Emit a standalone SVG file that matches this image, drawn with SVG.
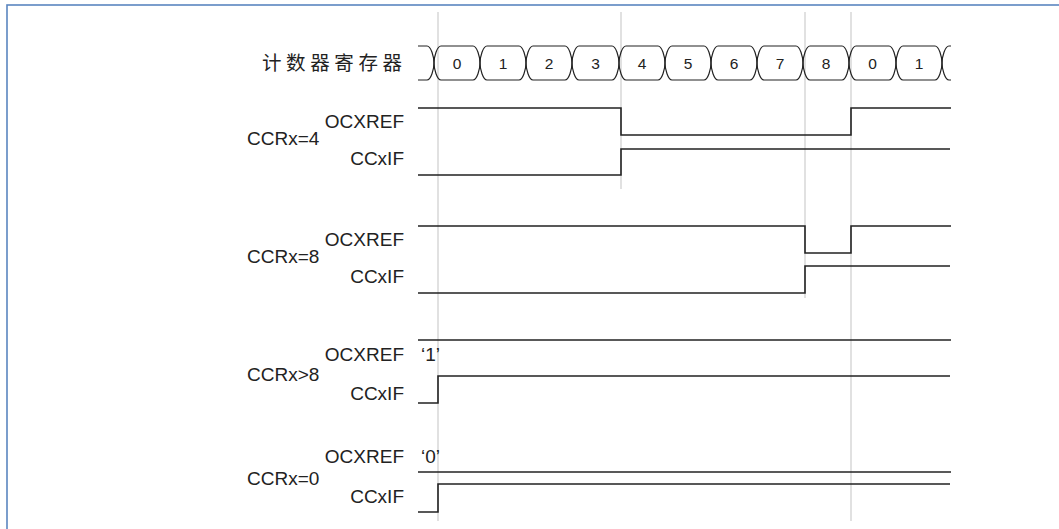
<svg xmlns="http://www.w3.org/2000/svg" width="1059" height="529" viewBox="0 0 1059 529">
<style>
.frame{fill:none;stroke:#5b86c0;stroke-width:1.6}
.grid{stroke:#d4d4d4;stroke-width:1.4;fill:none}
.sig{fill:none;stroke:#222;stroke-width:1.6}
.bus{fill:none;stroke:#222;stroke-width:1.2}
.lbl{font-family:"Liberation Sans",Arial,sans-serif;font-size:19px;fill:#222}
.num{font-family:"Liberation Sans",Arial,sans-serif;font-size:15.5px;fill:#222;text-anchor:middle}
.end{text-anchor:end}
.cjk{font-family:"Liberation Sans","Noto Sans CJK SC",sans-serif;font-size:19.5px;letter-spacing:4.6px;fill:#222}
</style>
<rect class="frame" x="7" y="5" width="1100" height="600"/>
<g id="grid">
<line class="grid" x1="438" y1="12" x2="438" y2="521"/>
<line class="grid" x1="621" y1="12" x2="621" y2="189"/>
<line class="grid" x1="805" y1="12" x2="805" y2="298"/>
<line class="grid" x1="851" y1="12" x2="851" y2="521"/>
</g>
<g id="counter">
<text class="cjk" x="262" y="70">计数器寄存器</text>
<path class="bus" d="M418,46 L427,46 C431,46 434,57 434,63 C434,69 431,80 427,80 L418,80"/>
<path class="bus" d="M434,63 C434,57 437,46 441,46 L473,46 C477,46 480,57 480,63 C480,69 477,80 473,80 L441,80 C437,80 434,69 434,63Z"/>
<path class="bus" d="M480,63 C480,57 483,46 487,46 L519,46 C523,46 526,57 526,63 C526,69 523,80 519,80 L487,80 C483,80 480,69 480,63Z"/>
<path class="bus" d="M526,63 C526,57 529,46 533,46 L565,46 C569,46 572,57 572,63 C572,69 569,80 565,80 L533,80 C529,80 526,69 526,63Z"/>
<path class="bus" d="M572,63 C572,57 575,46 579,46 L612,46 C616,46 619,57 619,63 C619,69 616,80 612,80 L579,80 C575,80 572,69 572,63Z"/>
<path class="bus" d="M619,63 C619,57 622,46 626,46 L658,46 C662,46 665,57 665,63 C665,69 662,80 658,80 L626,80 C622,80 619,69 619,63Z"/>
<path class="bus" d="M665,63 C665,57 668,46 672,46 L704,46 C708,46 711,57 711,63 C711,69 708,80 704,80 L672,80 C668,80 665,69 665,63Z"/>
<path class="bus" d="M711,63 C711,57 714,46 718,46 L750,46 C754,46 757,57 757,63 C757,69 754,80 750,80 L718,80 C714,80 711,69 711,63Z"/>
<path class="bus" d="M757,63 C757,57 760,46 764,46 L796,46 C800,46 803,57 803,63 C803,69 800,80 796,80 L764,80 C760,80 757,69 757,63Z"/>
<path class="bus" d="M803,63 C803,57 806,46 810,46 L842,46 C846,46 849,57 849,63 C849,69 846,80 842,80 L810,80 C806,80 803,69 803,63Z"/>
<path class="bus" d="M849,63 C849,57 852,46 856,46 L889,46 C893,46 896,57 896,63 C896,69 893,80 889,80 L856,80 C852,80 849,69 849,63Z"/>
<path class="bus" d="M896,63 C896,57 899,46 903,46 L935,46 C939,46 942,57 942,63 C942,69 939,80 935,80 L903,80 C899,80 896,69 896,63Z"/>
<path class="bus" d="M951,46 L949,46 C945,46 942,57 942,63 C942,69 945,80 949,80 L951,80"/>
<text class="num" x="457" y="68.5">0</text>
<text class="num" x="503" y="68.5">1</text>
<text class="num" x="549" y="68.5">2</text>
<text class="num" x="595.5" y="68.5">3</text>
<text class="num" x="642" y="68.5">4</text>
<text class="num" x="688" y="68.5">5</text>
<text class="num" x="734" y="68.5">6</text>
<text class="num" x="780" y="68.5">7</text>
<text class="num" x="826" y="68.5">8</text>
<text class="num" x="872.5" y="68.5">0</text>
<text class="num" x="919" y="68.5">1</text>
</g>
<g id="ccr4">
<text class="lbl end" x="404" y="128">OCXREF</text>
<text class="lbl" x="247" y="145">CCRx=4</text>
<text class="lbl end" x="404" y="165">CCxIF</text>
<path class="sig" d="M418,108 L621,108 L621,135 L851,135 L851,108 L951,108"/>
<path class="sig" d="M418,175 L621,175 L621,149 L950,149"/>
</g>
<g id="ccr8">
<text class="lbl end" x="404" y="246">OCXREF</text>
<text class="lbl" x="247" y="263">CCRx=8</text>
<text class="lbl end" x="404" y="283">CCxIF</text>
<path class="sig" d="M418,226 L805,226 L805,253 L851,253 L851,226 L951,226"/>
<path class="sig" d="M418,293 L805,293 L805,266 L950,266"/>
</g>
<g id="ccrgt8">
<text class="lbl end" x="404" y="361">OCXREF</text>
<text class="lbl" x="421" y="361">‘1’</text>
<text class="lbl" x="247" y="381">CCRx&gt;8</text>
<text class="lbl end" x="404" y="400">CCxIF</text>
<path class="sig" d="M418,340 L951,340"/>
<path class="sig" d="M418,403 L438,403 L438,376 L950,376"/>
</g>
<g id="ccr0">
<text class="lbl end" x="404" y="463">OCXREF</text>
<text class="lbl" x="421" y="463">‘0’</text>
<text class="lbl" x="247" y="485">CCRx=0</text>
<text class="lbl end" x="404" y="503">CCxIF</text>
<path class="sig" d="M418,472 L951,472"/>
<path class="sig" d="M418,512 L438,512 L438,484 L950,484"/>
</g>
</svg>
